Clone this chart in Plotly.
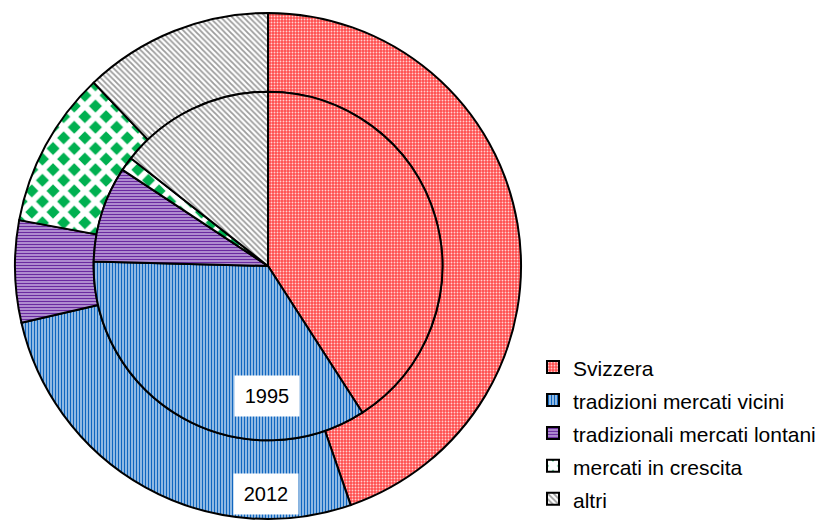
import plotly.graph_objects as go

# categories and shares (%)
labels = ["Svizzera", "tradizioni mercati vicini", "tradizionali mercati lontani",
          "mercati in crescita", "altri"]
quote_1995 = [40.9, 34.5, 8.9, 1.3, 14.4]
quote_2012 = [44.7, 26.7, 6.5, 10.0, 12.1]

# pattern style per category
SHAPES = [".", "|", "-", "x", "\\"]
FG = ["#ffd2d2", "#0f66c0", "#6a2aa0", "#ffffff", "#9c9c9c"]
BG = ["#ff4d4d", "#e4f0fb", "#dccbef", "#00b050", "#ffffff"]
SIZES = [3, 3, 3, 15, 4]
SOLID = [0.3, 0.6, 0.6, 0.62, 0.45]

W, H = 822, 521
CX, CY = 268, 267          # pie centre in px (from top-left)
R_OUT, R_IN = 254, 175
FONT = "Arial, Liberation Sans, sans-serif"


def dom(r):
    cy = H - CY
    return dict(x=[(CX - r) / W, (CX + r) / W],
                y=[max(cy - r, 0) / H, (cy + r) / H])


def marker():
    return dict(
        colors=BG,
        line=dict(color="black", width=2),
        pattern=dict(shape=SHAPES, fgcolor=FG, bgcolor=BG, size=SIZES,
                     solidity=SOLID, fillmode="replace"),
    )


# legend text shrunk through a span so rows get extra spacing
leg_labels = ['<span style="font-size:21px">%s</span>' % l for l in labels]

fig = go.Figure()
fig.add_trace(go.Pie(
    labels=leg_labels, values=quote_2012, hole=R_IN / R_OUT,
    domain=dom(R_OUT), sort=False, direction="clockwise", rotation=0,
    textinfo="none", marker=marker(), showlegend=True, name="2012",
))
fig.add_trace(go.Pie(
    labels=leg_labels, values=quote_1995,
    domain=dom(R_IN), sort=False, direction="clockwise", rotation=0,
    textinfo="none", marker=marker(), showlegend=False, name="1995",
))

for txt, x, y in [("1995", 267, 398), ("2012", 266, 496)]:
    fig.add_annotation(
        text=txt, x=x / W, y=(H - y) / H, xref="paper", yref="paper",
        xanchor="center", yanchor="middle",
        showarrow=False, bgcolor="white", width=48, height=24, borderpad=8,
        font=dict(family=FONT, size=20, color="black"),
    )

fig.update_layout(
    width=W, height=H,
    margin=dict(l=0, r=0, t=0, b=0),
    paper_bgcolor="white",
    plot_bgcolor="white",
    font=dict(family=FONT, color="black"),
    legend=dict(
        x=533 / W, xanchor="left", y=(H - 347) / H, yanchor="top",
        font=dict(size=23, color="black"),
        bgcolor="rgba(0,0,0,0)", borderwidth=0, traceorder="normal",
    ),
)

fig.write_html("out.html", config={"displayModeBar": False},
               post_script="document.body.style.margin='0';")
